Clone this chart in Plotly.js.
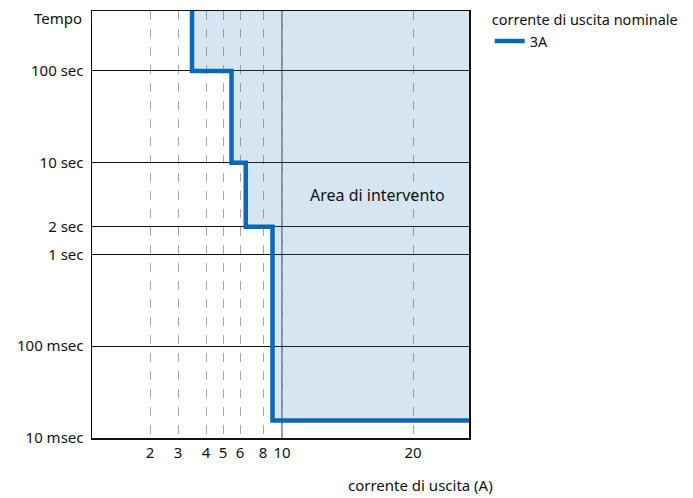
<!DOCTYPE html>
<html><head><meta charset="utf-8">
<script src="https://cdn.plot.ly/plotly-3.0.1.min.js"></script>
<style>html,body{margin:0;padding:0;background:#fff}#chart{width:693px;height:498px}</style>
</head><body><div id="chart"></div>
<script>
// ---- data ----
const xTickAmps = [2, 3, 4, 5, 6, 8, 10, 20];
const xTickLabels = ['2', '3', '4', '5', '6', '8', '10', '20'];
const yTickVals = [0.01, 0.1, 1, 2, 10, 100];
const yTickLabels = ['10 msec', '100 msec', '1 sec', '2 sec', '10 sec', '100 sec'];
// step curve of the 3A trip characteristic (current A, time s)
const stepAmps = [3.5, 3.5, 5.5, 5.5, 6.5, 6.5, 9, 9, 25];
const stepTime = [450, 100, 100, 10, 10, 2, 2, 0.0155, 0.0155];
const seriesName = '3A';

// ---- schematic (non-uniform) x scale of the original drawing ----
const scaleNodes = [58, 86, 114, 131, 148, 171, 190, 321]; // axis units for each tick
function xs(a) {
  const n = xTickAmps.length;
  let i = 0;
  if (a <= xTickAmps[0]) i = 0;
  else if (a >= xTickAmps[n - 1]) i = n - 2;
  else { while (!(a >= xTickAmps[i] && a <= xTickAmps[i + 1])) i++; }
  const t = (a - xTickAmps[i]) / (xTickAmps[i + 1] - xTickAmps[i]);
  return scaleNodes[i] + t * (scaleNodes[i + 1] - scaleNodes[i]);
}
const X_MAX = 377;
const Y_TOP = 450;

const stepX = stepAmps.map(xs);
const fillX = stepX.concat([xs(25), stepX[0]]);
const fillY = stepTime.concat([Y_TOP, Y_TOP]);

const FAM = 'Noto Sans, Open Sans, sans-serif';
const font = {family: FAM, size: 15, color: '#111'};
const legFont = {family: FAM, size: 14.5, color: '#111'};

const traces = [
  {x: fillX, y: fillY, mode: 'lines', fill: 'toself', fillcolor: 'rgba(43,130,190,0.2)',
   line: {width: 0}, hoverinfo: 'skip', showlegend: false},
  {x: stepX, y: stepTime, mode: 'lines', name: seriesName,
   line: {color: '#0a68b4', width: 4.5, shape: 'linear'}}
];

const layout = {
  width: 693, height: 498,
  margin: {l: 92, r: 224, t: 11, b: 60, autoexpand: false},
  paper_bgcolor: '#fff', plot_bgcolor: '#fff',
  font: font,
  showlegend: true,
  legend: {x: 1.055, y: 1.011, xanchor: 'left', yanchor: 'top',
           title: {text: 'corrente di uscita nominale', font: legFont},
           font: legFont, bgcolor: 'rgba(0,0,0,0)', itemwidth: 30, tracegroupgap: 0},
  xaxis: {
    range: [0, X_MAX], tickmode: 'array',
    tickvals: xTickAmps.map(xs), ticktext: xTickLabels,
    showgrid: true, gridcolor: '#a8a8a8', griddash: 'dash', gridwidth: 1,
    zeroline: false, showline: true, linecolor: '#111', linewidth: 1.5, mirror: true,
    ticks: '', tickfont: font, fixedrange: true
  },
  yaxis: {
    type: 'log', range: [-2, Math.log10(Y_TOP)], tickmode: 'array',
    tickvals: yTickVals, ticktext: yTickLabels,
    showgrid: true, gridcolor: '#111', gridwidth: 1,
    zeroline: false, showline: true, linecolor: '#111', linewidth: 1.5, mirror: true,
    ticks: '', tickfont: font, ticklabelstandoff: 4, fixedrange: true
  },
  shapes: [
    {type: 'line', xref: 'x', yref: 'paper', x0: xs(10), x1: xs(10), y0: 0, y1: 1,
     line: {color: '#333', width: 1}, layer: 'below'}
  ],
  annotations: [
    {text: 'Tempo', xref: 'paper', yref: 'paper', x: 0, y: 1, xanchor: 'right', yanchor: 'middle',
     xshift: -8, yshift: -7, showarrow: false, font: font},
    {text: 'corrente di uscita (A)', xref: 'paper', yref: 'paper', x: 1.069, y: 0,
     xanchor: 'right', yanchor: 'middle', yshift: -47, showarrow: false, font: font},
    {text: 'Area di intervento', xref: 'x', yref: 'y', x: xs(17.3), y: Math.log10(4.5),
     xanchor: 'center', yanchor: 'middle', showarrow: false,
     font: {family: FAM, size: 16, color: '#111'}}
  ]
};

Plotly.newPlot('chart', traces, layout, {displayModeBar: false, staticPlot: true});
</script>
</body></html>
